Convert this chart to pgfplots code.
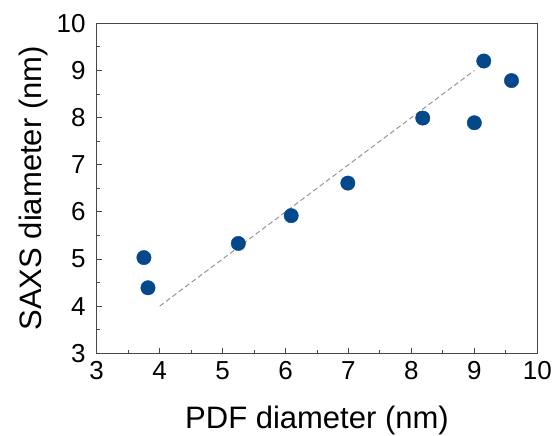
\documentclass[border=0pt]{standalone}
\usepackage{fontspec}
\setmainfont{Liberation Sans}
\usepackage{pgfplots}
\pgfplotsset{compat=1.18}
\definecolor{mk}{RGB}{4,72,140}
\definecolor{fr}{RGB}{70,70,70}
\begin{document}
\begin{tikzpicture}
\path[use as bounding box] (-96.7bp,-82.7bp) rectangle (459.3bp,353.3bp);
\begin{axis}[
  scale only axis,
  width=440.6bp, height=330bp,
  xmin=3, xmax=10, ymin=3, ymax=10,
  xtick={3,...,10}, ytick={3,...,10},
  minor tick num=1,
  tick pos=left,
  tick align=inside,
  major tick length=5bp,
  minor tick length=3bp,
  axis line style={fr, line width=1.1bp},
  every tick/.style={fr, line width=0.9bp},
  /pgf/number format/assume math mode=true,
  ticklabel style={font=\fontsize{26bp}{30bp}\selectfont, inner sep=2bp},
  xticklabel style={yshift=-6bp},
  yticklabel style={xshift=-9bp},
  xlabel={PDF diameter (nm)},
  ylabel={SAXS diameter (nm)},
  label style={font=\fontsize{31bp}{36bp}\selectfont},
  xlabel style={at={(axis description cs:0.5,-0.2264)}, anchor=base},
  ylabel style={at={(axis description cs:-0.1248,0.5)}, anchor=base, rotate=0},
]
\addplot[gray!90, dashed, line width=0.9bp, dash pattern=on 5bp off 3bp] coordinates {(4,4) (9,9)};
\addplot[only marks, mark=*, mark size=7.2bp, mark options={fill=mk, draw=mk}] coordinates {
(3.75,5.03)
(3.815,4.39)
(5.25,5.33)
(6.09,5.92)
(6.99,6.61)
(8.18,7.99)
(9.00,7.89)
(9.15,9.20)
(9.59,8.785)
};
\end{axis}
\end{tikzpicture}
\end{document}
